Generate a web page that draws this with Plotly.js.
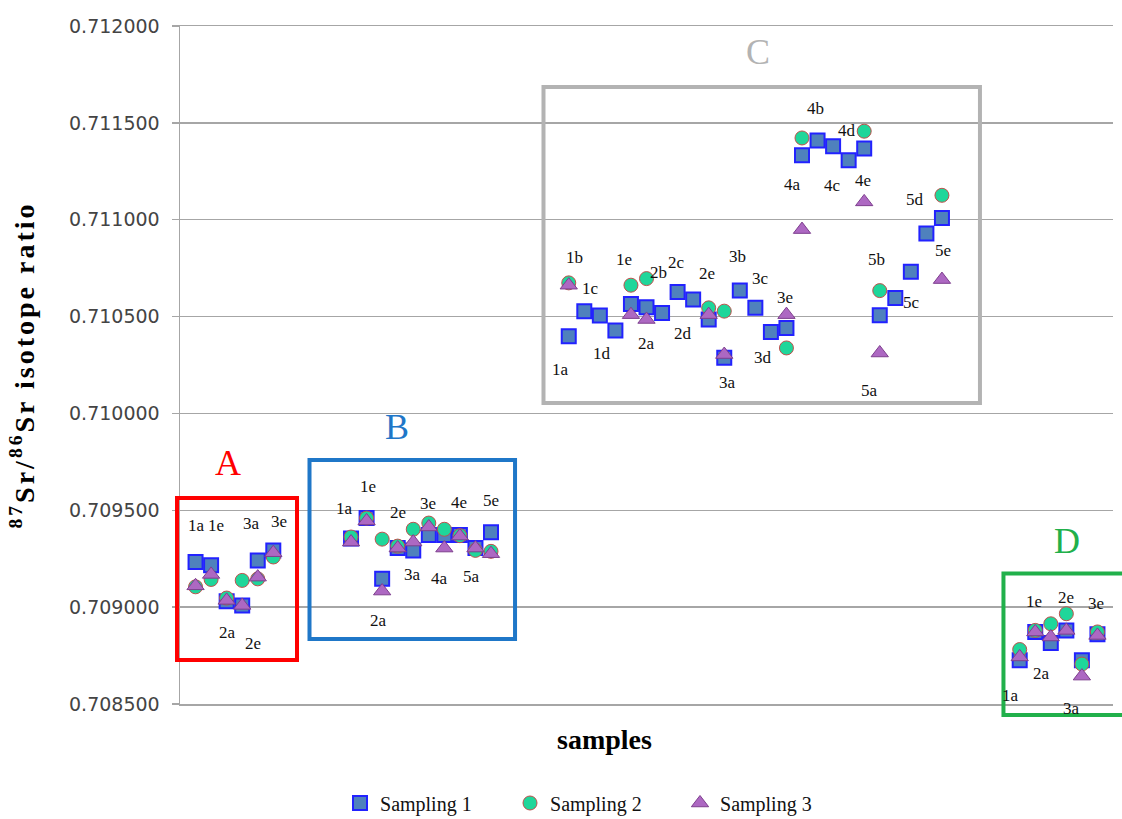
<!DOCTYPE html>
<html>
<head>
<meta charset="utf-8">
<script src="https://cdn.plot.ly/plotly-3.0.1.min.js"></script>
<style>
html,body{margin:0;padding:0;background:#fff;}
#chart{width:1122px;height:819px;}
#chart .ytitle{letter-spacing:3px;}
</style>
</head>
<body>
<div id="chart"></div>
<script>
// sample positions along the x axis (groups A, B, C, D)
const sampleX = [1,2,3,4,5,6,
  11,12,13,14,15,16,17,18,19,20,
  25,26,27,28,29,30,31,32,33,34,35,36,37,38,39,40,41,42,43,44,45,46,47,48,49,
  54,55,56,57,58,59];

const sampling1 = [0.709233,0.709216,0.709031,0.709009,0.709241,0.709293,
  0.709354,0.709460,0.709146,0.709305,0.709293,0.709372,0.709372,0.709372,0.709305,0.709387,
  0.710398,0.710528,0.710505,0.710428,0.710565,0.710548,0.710519,0.710627,0.710588,0.710485,
  0.710287,0.710634,0.710545,0.710421,0.710441,0.711333,0.711409,0.711379,0.711307,0.711367,
  0.710507,0.710596,0.710731,0.710929,0.711009,
  0.708726,0.708872,0.708815,0.708880,0.708726,0.708860];

const sampling2 = [0.709105,0.709143,0.709047,0.709138,0.709146,0.709259,
  0.709362,0.709460,0.709351,0.709315,0.709402,0.709434,0.709402,0.709369,0.709293,0.709288,
  0.710674,null,null,null,0.710662,0.710696,null,null,null,0.710545,
  0.710528,null,null,null,0.710338,0.711422,null,null,null,0.711457,
  0.710634,null,null,null,0.711126,
  0.708781,0.708880,0.708914,0.708966,0.708706,0.708872];

const sampling3 = [0.709110,0.709169,0.709035,0.709009,0.709155,0.709281,
  0.709336,0.709445,0.709083,0.709305,0.709336,0.709414,0.709305,0.709367,0.709305,0.709276,
  0.710662,null,null,null,0.710510,0.710485,null,null,null,0.710510,
  0.710304,null,null,null,0.710510,0.710949,null,null,null,0.711092,
  0.710312,null,null,null,0.710691,
  0.708743,0.708872,0.708846,0.708880,0.708644,0.708854];

// point labels (text, x position, y value)
const labelText = ['1a','1e','3a','3e','2a','2e',
  '1a','1e','2e','3e','4e','5e','3a','4a','5a','2a',
  '1b','1c','1e','2b','2c','2e','3b','3c','3e','1a','1d','2a','2d','3a','3d',
  '4b','4d','4a','4c','4e','5d','5e','5b','5c','5a',
  '1e','2e','3e','2a','1a','3a'];
const labelX = [1.03,2.30,4.57,6.39,3.04,4.71,
  10.55,12.11,14.0,15.97,17.96,19.98,14.96,16.68,18.76,12.75,
  25.40,26.43,28.55,30.74,31.96,33.89,35.82,37.30,38.91,24.44,27.14,29.97,32.35,35.24,37.49,
  40.84,42.89,39.42,41.93,43.92,47.27,49.07,44.82,47.07,44.37,
  54.92,56.98,58.91,55.43,53.44,57.36];
const labelY = [0.709420,0.709420,0.709430,0.709440,0.708868,0.708810,
  0.709510,0.709621,0.709487,0.709536,0.709539,0.709549,0.709166,0.709149,0.709157,0.708933,
  0.710806,0.710647,0.710796,0.710729,0.710781,0.710724,0.710812,0.710698,0.710600,0.710229,0.710311,0.710363,0.710414,0.710161,0.710290,
  0.711575,0.711462,0.711183,0.711178,0.711204,0.711106,0.710843,0.710796,0.710574,0.710120,
  0.709031,0.709052,0.709021,0.708660,0.708546,0.708500];

// group boxes
const groupNames = ['A','B','C','D'];
const groupColors = ['#ff0000','#1f77c8','#b3b3b3','#21b04b'];

const serif = '"Liberation Serif", "Times New Roman", serif';

const traces = [
  {x: sampleX, y: sampling1, name: 'Sampling 1', type: 'scatter', mode: 'markers',
   marker: {symbol: 'square', size: 14, color: '#4f81bd', line: {color: '#2222ff', width: 2}}},
  {x: sampleX, y: sampling2, name: 'Sampling 2', type: 'scatter', mode: 'markers',
   marker: {symbol: 'circle', size: 14, color: '#1fd69a', line: {color: '#c0504d', width: 1}}},
  {x: sampleX, y: sampling3, name: 'Sampling 3', type: 'scatter', mode: 'markers',
   marker: {symbol: 'triangle-up', size: 15, color: '#ad68c2', line: {color: '#7e3f8e', width: 1}}}
];

const annotations = labelText.map((t, i) => ({
  x: labelX[i], y: labelY[i], xref: 'x', yref: 'y', text: t, showarrow: false,
  xanchor: 'center', yanchor: 'middle',
  font: {family: serif, size: 17, color: '#111'},
  yshift: (i === labelText.length - 1) ? -4 : 0
}));

// group letters (paper coords)
const letterPos = [[0.0515, 0.355], [0.2325, 0.408], [0.6195, 0.961], [0.9507, 0.240]];
groupNames.forEach((g, i) => {
  annotations.push({x: letterPos[i][0], y: letterPos[i][1], xref: 'paper', yref: 'paper',
    xanchor: 'center', yanchor: 'middle',
    text: g, showarrow: false, font: {family: serif, size: 36, color: groupColors[i]}});
});
annotations.push({x: 0.4555, y: -0.053, xref: 'paper', yref: 'paper', text: '<b>samples</b>',
  xanchor: 'center', yanchor: 'middle',
  showarrow: false, font: {family: serif, size: 28, color: '#000'}});

const boxes = [[-0.0032, 0.0649, 0.1254, 0.3038], [0.1388, 0.0959, 0.3591, 0.3599],
  [0.3896, 0.444, 0.8574, 0.910], [0.8826, -0.0162, 1.02, 0.1925]];
const shapes = boxes.map((b, i) => ({type: 'rect', xref: 'paper', yref: 'paper',
  x0: b[0], y0: b[1], x1: b[2], y1: b[3], line: {color: groupColors[i], width: 4}, fillcolor: 'rgba(0,0,0,0)'}));

const layout = {
  width: 1122, height: 819,
  margin: {l: 180, r: 9, t: 26, b: 115, autoexpand: false},
  paper_bgcolor: '#fff', plot_bgcolor: '#fff',
  showlegend: true,
  legend: {orientation: 'h', x: 0.1715, xanchor: 'left', y: -0.146, yanchor: 'middle',
    font: {family: serif, size: 20, color: '#111'}, entrywidth: 125, entrywidthmode: 'pixels',
    itemwidth: 30},
  xaxis: {range: [0, 60], showgrid: false, zeroline: false, showticklabels: false, ticks: '',
    showline: true, linecolor: '#a6a6a6', linewidth: 1.5, mirror: true},
  yaxis: {range: [0.70849999, 0.71200001], tick0: 0.7085, dtick: 0.0005, tickformat: '.6f',
    showgrid: true, gridcolor: '#a6a6a6', gridwidth: 1.5, zeroline: false,
    showline: true, linecolor: '#a6a6a6', linewidth: 1.5, ticks: 'outside', ticklen: 7,
    tickcolor: '#a6a6a6', tickwidth: 1.5, ticklabelstandoff: 8,
    tickfont: {family: '"DejaVu Sans", sans-serif', size: 19, color: '#444'},
    title: {text: '<b><sup>87</sup>Sr/<sup>86</sup>Sr isotope ratio</b>', standoff: 26,
      font: {family: serif, size: 28, color: '#000'}}},
  annotations: annotations,
  shapes: shapes
};

Plotly.newPlot('chart', traces, layout, {displayModeBar: false, staticPlot: true});
</script>
</body>
</html>
